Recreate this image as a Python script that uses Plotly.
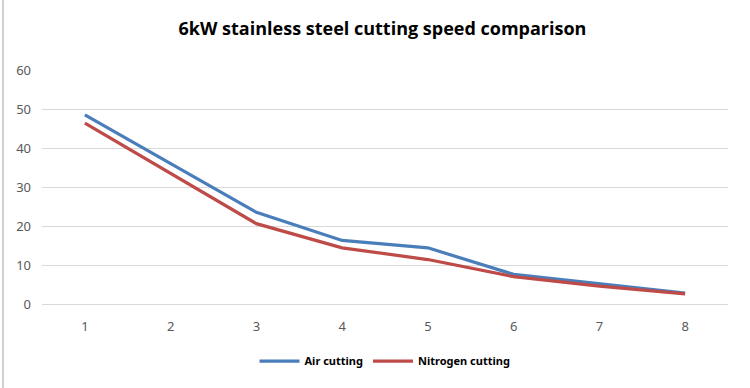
import plotly.graph_objects as go

categories = [1, 2, 3, 4, 5, 6, 7, 8]
air_cutting = [48.5, 36.0, 23.5, 16.3, 14.4, 7.6, 5.2, 2.8]
nitrogen_cutting = [46.4, 33.4, 20.6, 14.4, 11.4, 7.0, 4.6, 2.6]
y_ticks = [0, 10, 20, 30, 40, 50, 60]

fig = go.Figure()
fig.add_trace(go.Scatter(x=categories, y=air_cutting, mode="lines", name="<b>Air cutting</b>",
                         line=dict(color="#4A7EBB", width=3.2)))
fig.add_trace(go.Scatter(x=categories, y=nitrogen_cutting, mode="lines", name="<b>Nitrogen cutting</b>",
                         line=dict(color="#BE4B48", width=3.2)))

fig.update_layout(
    width=750, height=388,
    margin=dict(l=42, r=22, t=70, b=84),
    paper_bgcolor="white", plot_bgcolor="white",
    title=dict(text="<b>6kW stainless steel cutting speed comparison</b>",
               x=0.51, xanchor="center", y=0.925, yanchor="middle",
               font=dict(family="Open Sans, Noto Sans, sans-serif", size=18, color="#000000")),
    showlegend=True,
    legend=dict(orientation="h", x=0.5, xanchor="center", y=-0.244, yanchor="middle",
                font=dict(family="Noto Sans, sans-serif", size=11, color="#000000"),
                itemwidth=40, traceorder="normal"),
    font=dict(family="Noto Sans, sans-serif"),
)

fig.update_xaxes(range=[0.5, 8.5], tickvals=categories, ticktext=[str(c) for c in categories],
                 showgrid=False, zeroline=False, showline=False, ticks="",
                 ticklabelstandoff=13,
                 tickfont=dict(size=13, color="#595959"))
fig.update_yaxes(range=[0, 60], tickvals=y_ticks, showgrid=True, gridcolor="#D9D9D9", gridwidth=1,
                 zeroline=True, zerolinecolor="#D9D9D9", zerolinewidth=1,
                 showline=False, ticks="", ticklabelstandoff=10,
                 tickfont=dict(size=13, color="#595959"))

fig.add_shape(type="line", xref="paper", yref="paper",
              x0=(3 - 42) / 686, x1=(3 - 42) / 686, y0=-84 / 234, y1=(304 + 0) / 234,
              line=dict(color="#D0D0D0", width=2))

fig.write_html("out.html", config={"displayModeBar": False},
               post_script="document.body.style.margin='0';document.body.style.overflow='hidden';")
